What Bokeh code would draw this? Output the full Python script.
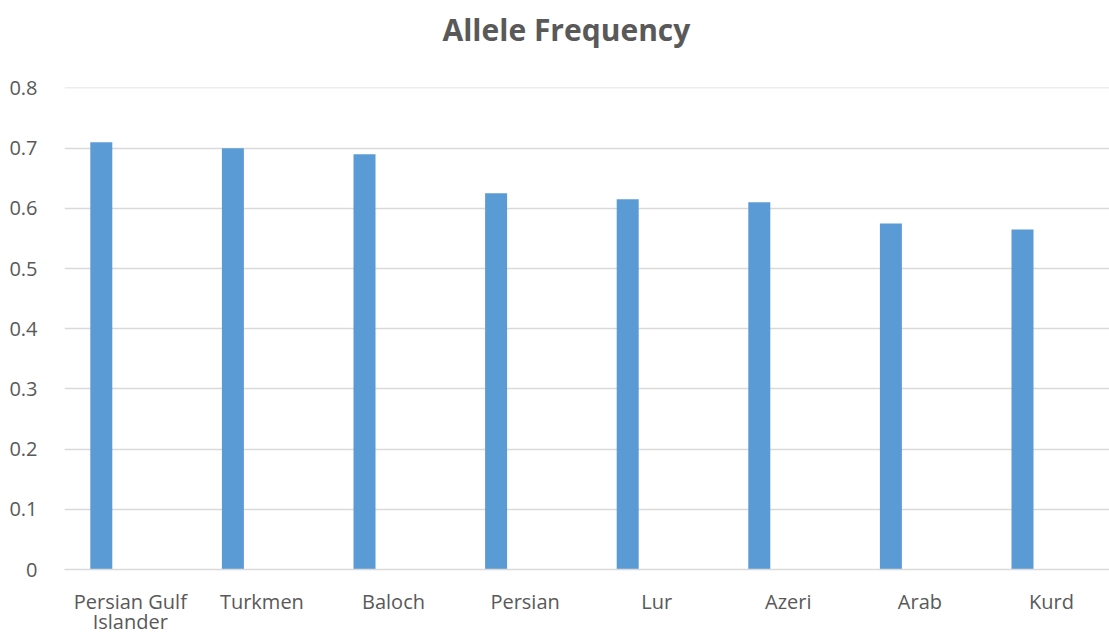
from bokeh.plotting import figure
from bokeh.models import Range1d, FixedTicker, Title, LinearAxis
from bokeh.embed import file_html
from bokeh.resources import INLINE

categories = ["Persian Gulf Islander", "Turkmen", "Baloch", "Persian", "Lur", "Azeri", "Arab", "Kurd"]
label_line1 = ["Persian Gulf", "Turkmen", "Baloch", "Persian", "Lur", "Azeri", "Arab", "Kurd"]
label_line2 = ["Islander", "", "", "", "", "", "", ""]
values = [0.71, 0.70, 0.69, 0.625, 0.615, 0.61, 0.575, 0.565]
y_ticks = [0, 0.1, 0.2, 0.3, 0.4, 0.5, 0.6, 0.7, 0.8]

FONT = "Open Sans"
TXT = "#595959"

W, H = 1109, 637
left, top, bottom = 64, 87, 68
cat_px = 131.6
x_end = (W - left) / cat_px

p = figure(width=W, height=H, output_backend="svg", toolbar_location=None,
           x_range=Range1d(0, x_end), y_range=Range1d(0, 0.8008),
           min_border_left=left, min_border_right=0, min_border_top=top, min_border_bottom=bottom)
p.outline_line_color = None
p.background_fill_color = "white"
p.border_fill_color = "white"

centers = [i + 0.5 for i in range(len(categories))]
bar_x = [c - 29 / cat_px for c in centers]
p.vbar(x=bar_x, top=values, bottom=0, width=22 / cat_px, fill_color="#5B9BD5", line_color=None)

# x axis (first line of labels)
p.xaxis.ticker = FixedTicker(ticks=centers)
p.xaxis.major_label_overrides = {c: lab for c, lab in zip(centers, label_line1)}
p.xaxis.axis_line_color = "#D9D9D9"
p.xaxis.axis_line_width = 1.5
p.xaxis.major_tick_line_color = None
p.xaxis.minor_tick_line_color = None
p.xaxis.major_label_text_font = FONT
p.xaxis.major_label_text_font_size = "20px"
p.xaxis.major_label_text_color = TXT
p.xaxis.major_label_standoff = 12

# second line of wrapped labels
ax2 = LinearAxis(ticker=FixedTicker(ticks=centers),
                 major_label_overrides={c: (lab if lab else " ") for c, lab in zip(centers, label_line2)},
                 axis_line_color=None, major_tick_line_color=None, minor_tick_line_color=None,
                 major_label_text_font=FONT, major_label_text_font_size="20px",
                 major_label_text_line_height=0.7,
                 major_label_text_color=TXT, major_label_standoff=-16)
p.add_layout(ax2, "below")

# y axis
p.yaxis.ticker = FixedTicker(ticks=y_ticks)
p.yaxis.major_label_overrides = {t: ("0" if t == 0 else f"{t:.1f}") for t in y_ticks}
p.yaxis.axis_line_color = None
p.yaxis.major_tick_line_color = None
p.yaxis.minor_tick_line_color = None
p.yaxis.major_label_text_font = FONT
p.yaxis.major_label_text_font_size = "20px"
p.yaxis.major_label_text_color = TXT
p.yaxis.major_label_standoff = 21

p.xgrid.grid_line_color = None
p.ygrid.grid_line_color = "#D9D9D9"
p.ygrid.grid_line_width = 1.5

t = Title(text="Allele Frequency\n ", align="left", offset=378,
          text_font=FONT, text_font_size="30px", text_font_style="bold",
          text_color=TXT, standoff=-7)
p.add_layout(t, "above")

open("out.html", "w").write(file_html(p, INLINE))
